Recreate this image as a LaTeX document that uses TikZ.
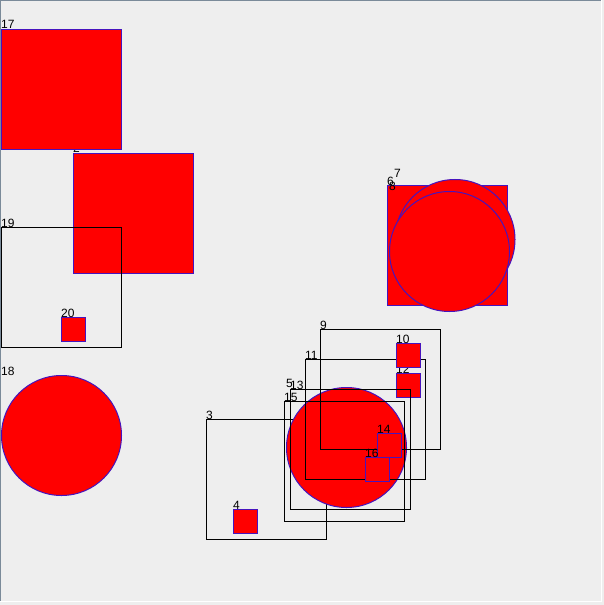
\documentclass[tikz,border=0pt]{standalone}
\usepackage{fontspec}
\setmainfont{Liberation Sans}
\definecolor{panelbg}{RGB}{238,238,238}
\definecolor{frameline}{RGB}{122,138,153}
\definecolor{rimblue}{RGB}{70,20,190}
\begin{document}
\begin{tikzpicture}[
  x=1bp,y=-1bp,
  every node/.style={font=\fontsize{12bp}{14bp}\selectfont},
  redsq/.style={rectangle,draw=rimblue,fill=red,line width=1bp,inner sep=0pt,minimum size=120bp},
  tinysq/.style={redsq,minimum size=24bp},
  emptybox/.style={rectangle,draw=black,line width=1bp,inner sep=0pt,minimum size=120bp},
  disc/.style={circle,draw=rimblue,fill=red,line width=1bp,inner sep=0pt,minimum size=120bp},
  tag/.style={anchor=base west,inner sep=0pt}
]
\fill[panelbg] (0,0) rectangle (604,605);
\useasboundingbox (0,0) rectangle (604,605);
\draw[frameline,line width=1bp] (0.5,601) -- (0.5,0.5) -- (602,0.5);
\draw[white,line width=1bp] (601.5,0.5) -- (601.5,601.5) -- (0.5,601.5);
\node[redsq] (s2) at (133.5,213.5) {};
\node[tag] (l2) at (73,153) {2};
\node[emptybox] (s3) at (266.5,479.5) {};
\node[tag] (l3) at (206,419) {3};
\node[tinysq] (s4) at (245.5,521.5) {};
\node[tag] (l4) at (233,509) {4};
\node[disc] (s5) at (346.5,447.5) {};
\node[tag] (l5) at (286,387) {5};
\node[redsq] (s6) at (447.5,245.5) {};
\node[tag] (l6) at (387,185) {6};
\node[disc] (s7) at (455,239.5) {};
\node[tag] (l7) at (394,178) {7};
\node[disc] (s8) at (449.5,251.5) {};
\node[tag] (l8) at (389,190) {8};
\node[emptybox] (s9) at (380.5,389.5) {};
\node[tag] (l9) at (320,329) {9};
\node[emptybox] (s11) at (365.5,419.5) {};
\node[tag] (l11) at (305,359) {11};
\node[tinysq] (s12) at (408.5,385.5) {};
\node[tag] (l12) at (396,373) {12};
\node[tinysq] (s10) at (408.5,355.5) {};
\node[tag] (l10) at (396,343) {10};
\node[emptybox] (s13) at (350.5,449.5) {};
\node[tag] (l13) at (290,389) {13};
\node[tinysq] (s14) at (389.5,445.5) {};
\node[tag] (l14) at (377,433) {14};
\node[emptybox] (s15) at (344.5,461.5) {};
\node[tag] (l15) at (284,401) {15};
\node[tinysq] (s16) at (377.5,469.5) {};
\node[tag] (l16) at (365,457) {16};
\node[redsq] (s17) at (61.5,89.5) {};
\node[tag] (l17) at (1,29) {17};
\node[disc] (s18) at (61.5,435.5) {};
\node[tag] (l18) at (1,375) {18};
\node[emptybox] (s19) at (61.5,287.5) {};
\node[tag] (l19) at (1,227) {19};
\node[tinysq] (s20) at (73.5,329.5) {};
\node[tag] (l20) at (61,317) {20};
\end{tikzpicture}
\end{document}
